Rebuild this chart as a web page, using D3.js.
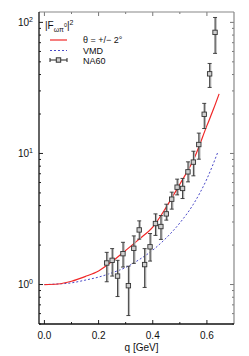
<!DOCTYPE html>
<html>
<head>
<meta charset="utf-8">
<script src="https://cdn.jsdelivr.net/npm/d3@7"></script>
<style>
  body { margin: 0; background: #fff; }
  svg { display: block; font-family: "Liberation Sans", Arial, sans-serif; }
  .lab { font-size: 10px; fill: #111; }
  .leg { font-size: 9px; fill: #111; }
</style>
</head>
<body>
<svg id="chart"></svg>
<script>
// NA60 data points
var q    = [0.23, 0.25, 0.27, 0.29, 0.31, 0.33, 0.35, 0.37, 0.39, 0.41, 0.43,
            0.45, 0.47, 0.49, 0.51, 0.53, 0.55, 0.57, 0.59, 0.61, 0.63];
var ff   = [1.46, 1.53, 1.16, 1.72, 0.98, 1.89, 2.61, 1.42, 1.94, 2.92, 2.77,
            3.46, 4.48, 5.53, 5.41, 7.24, 8.59, 11.7, 19.9, 40.5, 83.9];
var errHi = [1.76, 1.88, 1.53, 2.10, 1.38, 2.35, 3.06, 1.88, 2.45, 3.46, 3.36,
            4.10, 5.07, 6.37, 6.45, 8.63, 10.4, 14.3, 24.1, 48.6, 109];
var errLo = [1.05, 1.16, 0.81, 1.36, 0.58, 1.45, 2.22, 0.95, 1.51, 2.37, 2.21,
            3.10, 3.76, 4.83, 4.53, 6.07, 6.75, 9.04, 15.5, 31.9, 58.0];

// model curves
var qCurve = [0, 0.05, 0.1, 0.15, 0.2, 0.25, 0.3, 0.35, 0.4, 0.45, 0.5, 0.55, 0.6, 0.625, 0.645];
var theta  = [1.00, 1.01, 1.06, 1.15, 1.27, 1.50, 1.82, 2.22, 2.74, 3.90, 5.83, 8.9, 16.3, 22.0, 28.5];
var qVmd   = [0, 0.05, 0.1, 0.15, 0.2, 0.25, 0.3, 0.35, 0.4, 0.45, 0.5, 0.55, 0.6, 0.64];
var vmd    = [1.00, 1.01, 1.03, 1.08, 1.14, 1.23, 1.35, 1.55, 1.83, 2.27, 2.95, 4.1, 6.4, 10.2];

var xMajor = [0, 0.2, 0.4, 0.6];
var xMinor = [0.1, 0.3, 0.5];
var yMajor = [1, 10, 100];
var yExp = ["0", "1", "2"];

var width = 249, height = 356;
var margin = { top: 12, right: 15, bottom: 32, left: 39 };
var chartWidth = width - margin.left - margin.right,
    chartHeight = height - margin.top - margin.bottom;

var svg = d3.select('#chart').attr('width', width).attr('height', height);
var g = svg.append('g').attr('transform', 'translate(' + margin.left + ',' + margin.top + ')');

var x = d3.scaleLinear().domain([-0.02, 0.70]).range([0, chartWidth]);
var y = d3.scaleLog().domain([0.5, 120]).range([chartHeight, 0]);

// minor y ticks
var yMinor = [];
[0.1, 1, 10].forEach(function(dec) {
    for (var k = 2; k <= 9; k++) {
        var v = k * dec;
        if (v >= 0.5 && v <= 120) yMinor.push(v);
    }
});

// inward ticks on all four sides
g.append('g').attr('class', 'ticks').call(function(s) {
    yMajor.forEach(function(v) {
        s.append('line').attr('x1', 0).attr('x2', 4).attr('y1', y(v)).attr('y2', y(v)).attr('stroke', '#222');
        s.append('line').attr('x1', chartWidth).attr('x2', chartWidth - 4).attr('y1', y(v)).attr('y2', y(v)).attr('stroke', '#777');
    });
    yMinor.forEach(function(v) {
        s.append('line').attr('x1', 0).attr('x2', 2).attr('y1', y(v)).attr('y2', y(v)).attr('stroke', '#222');
        s.append('line').attr('x1', chartWidth).attr('x2', chartWidth - 2).attr('y1', y(v)).attr('y2', y(v)).attr('stroke', '#777');
    });
    xMajor.forEach(function(v) {
        s.append('line').attr('x1', x(v)).attr('x2', x(v)).attr('y1', chartHeight).attr('y2', chartHeight - 4).attr('stroke', '#222');
        s.append('line').attr('x1', x(v)).attr('x2', x(v)).attr('y1', 0).attr('y2', 4).attr('stroke', '#777');
    });
    xMinor.forEach(function(v) {
        s.append('line').attr('x1', x(v)).attr('x2', x(v)).attr('y1', chartHeight).attr('y2', chartHeight - 2).attr('stroke', '#222');
        s.append('line').attr('x1', x(v)).attr('x2', x(v)).attr('y1', 0).attr('y2', 2).attr('stroke', '#777');
    });
});

// frame
g.append('line').attr('x1', 0).attr('x2', chartWidth).attr('y1', 0).attr('y2', 0).attr('stroke', '#888').attr('stroke-width', 1.2);
g.append('line').attr('x1', chartWidth).attr('x2', chartWidth).attr('y1', 0).attr('y2', chartHeight).attr('stroke', '#888').attr('stroke-width', 1.2);
g.append('line').attr('x1', 0).attr('x2', 0).attr('y1', 0).attr('y2', chartHeight).attr('stroke', '#111').attr('stroke-width', 1.3);
g.append('line').attr('x1', 0).attr('x2', chartWidth).attr('y1', chartHeight).attr('y2', chartHeight).attr('stroke', '#111').attr('stroke-width', 1.3);

// tick labels
xMajor.forEach(function(v) {
    g.append('text').attr('class', 'lab').attr('x', x(v)).attr('y', chartHeight + 15)
        .attr('text-anchor', 'middle').text(d3.format('.1f')(v));
});
yMajor.forEach(function(v, i) {
    var t = g.append('text').attr('class', 'lab').attr('x', -6).attr('y', y(v) + 3.5)
        .attr('text-anchor', 'end');
    t.append('tspan').text('10');
    t.append('tspan').attr('dy', -4).style('font-size', '7px').text(yExp[i]);
});

g.append('text').attr('class', 'lab').attr('x', chartWidth / 2 + 5).attr('y', chartHeight + 27)
    .attr('text-anchor', 'middle').text('q [GeV]');

// curves
var line = d3.line()
    .x(function(d) { return x(d[0]); })
    .y(function(d) { return y(d[1]); })
    .curve(d3.curveMonotoneX);

g.append('path').datum(d3.zip(qVmd, vmd)).attr('d', line)
    .attr('fill', 'none').attr('stroke', '#4848c8').attr('stroke-width', 1)
    .attr('stroke-dasharray', '2,2');
g.append('path').datum(d3.zip(qCurve, theta)).attr('d', line)
    .attr('fill', 'none').attr('stroke', '#f02828').attr('stroke-width', 1.2);

// data points
var pts = q.map(function(v, i) { return { x: v, y: ff[i], hi: errHi[i], lo: errLo[i] }; });

g.selectAll('.sys').data(pts).enter().append('line').attr('class', 'sys')
    .attr('x1', function(d) { return x(d.x) + 0.8; }).attr('x2', function(d) { return x(d.x) + 0.8; })
    .attr('y1', function(d) { return y(d.hi); }).attr('y2', function(d) { return y(d.lo); })
    .attr('stroke', '#b4b4b4').attr('stroke-width', 1.8);
g.selectAll('.err').data(pts).enter().append('line').attr('class', 'err')
    .attr('x1', function(d) { return x(d.x); }).attr('x2', function(d) { return x(d.x); })
    .attr('y1', function(d) { return y(d.hi); }).attr('y2', function(d) { return y(d.lo); })
    .attr('stroke', '#333').attr('stroke-width', 0.9);
['hi', 'lo'].forEach(function(k) {
    g.selectAll('.cap' + k).data(pts).enter().append('line').attr('class', 'cap' + k)
        .attr('x1', function(d) { return x(d.x) - 2; }).attr('x2', function(d) { return x(d.x) + 2; })
        .attr('y1', function(d) { return y(d[k]); }).attr('y2', function(d) { return y(d[k]); })
        .attr('stroke', '#333').attr('stroke-width', 0.9);
});
g.selectAll('.pt').data(pts).enter().append('rect').attr('class', 'pt')
    .attr('x', function(d) { return x(d.x) - 2.2; }).attr('y', function(d) { return y(d.y) - 2.2; })
    .attr('width', 4.4).attr('height', 4.4)
    .attr('fill', '#cfcfcf').attr('stroke', '#333').attr('stroke-width', 0.9);

// legend
var lg = g.append('g').attr('transform', 'translate(6,0)');
var title = lg.append('text').attr('class', 'lab').attr('x', 0).attr('y', 17);
title.append('tspan').text('|F');
title.append('tspan').attr('dy', 3).style('font-size', '7px').text('ωπ');
title.append('tspan').attr('dy', -5).style('font-size', '5.5px').text('0');
title.append('tspan').attr('dy', 2).text('|');
title.append('tspan').attr('dy', -4).style('font-size', '7px').text('2');

lg.append('line').attr('x1', 5).attr('x2', 22).attr('y1', 28).attr('y2', 28)
    .attr('stroke', '#f02828').attr('stroke-width', 1.2);
lg.append('text').attr('class', 'leg').attr('x', 38).attr('y', 31).text('θ = +/− 2°');
lg.append('line').attr('x1', 5).attr('x2', 22).attr('y1', 38.5).attr('y2', 38.5)
    .attr('stroke', '#4848c8').attr('stroke-width', 1).attr('stroke-dasharray', '2,2');
lg.append('text').attr('class', 'leg').attr('x', 38).attr('y', 41.5).text('VMD');
lg.append('line').attr('x1', 5).attr('x2', 22).attr('y1', 48).attr('y2', 48)
    .attr('stroke', '#222').attr('stroke-width', 1);
lg.append('line').attr('x1', 5).attr('x2', 5).attr('y1', 46).attr('y2', 50).attr('stroke', '#222');
lg.append('line').attr('x1', 22).attr('x2', 22).attr('y1', 46).attr('y2', 50).attr('stroke', '#222');
lg.append('rect').attr('x', 11.3).attr('y', 45.8).attr('width', 4.4).attr('height', 4.4)
    .attr('fill', '#cfcfcf').attr('stroke', '#333');
lg.append('text').attr('class', 'leg').attr('x', 38).attr('y', 51.5).text('NA60');
</script>
</body>
</html>
